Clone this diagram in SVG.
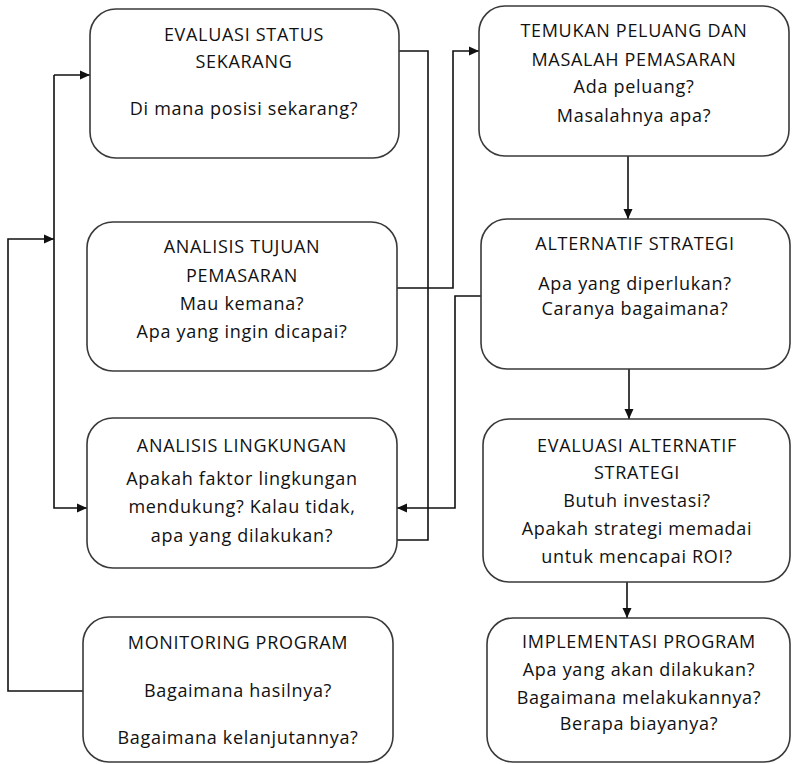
<svg xmlns="http://www.w3.org/2000/svg" width="792" height="764" viewBox="0 0 792 764">
  <style>
    .box { fill: #ffffff; stroke: #3a3a3a; stroke-width: 1.6; }
    .wire { fill: none; stroke: #111111; stroke-width: 1.6; }
    text { font-family: "Open Sans", "Noto Sans", "DejaVu Sans", sans-serif; font-size: 18px; letter-spacing: 0.7px; fill: #111111; text-anchor: middle; }
  </style>
  <defs>
    <marker id="arrow" viewBox="0 0 10 10" refX="10" refY="5" markerWidth="10" markerHeight="10" markerUnits="userSpaceOnUse" orient="auto">
      <path d="M0,0.5 L10,5 L0,9.5 Z" fill="#111111"/>
    </marker>
  </defs>
  <rect width="792" height="764" fill="#ffffff"/>

  <g id="connectors">
    <!-- status -> lingkungan (plain line) -->
    <path class="wire" d="M399,51 H428 V540 H397"/>
    <!-- tujuan -> temukan peluang -->
    <path class="wire" d="M397,288 H453 V51 H479" marker-end="url(#arrow)"/>
    <!-- alternatif strategi -> lingkungan -->
    <path class="wire" d="M481,296 H455 V508 H397" marker-end="url(#arrow)"/>
    <!-- left trunk feeding status and lingkungan -->
    <path class="wire" d="M54,75 H90" marker-end="url(#arrow)"/>
    <path class="wire" d="M54,75 V508 H87" marker-end="url(#arrow)"/>
    <!-- monitoring feedback -->
    <path class="wire" d="M83,691 H8 V239 H54" marker-end="url(#arrow)"/>
    <!-- right column chain -->
    <path class="wire" d="M628,156 V219" marker-end="url(#arrow)"/>
    <path class="wire" d="M629,369 V419" marker-end="url(#arrow)"/>
    <path class="wire" d="M627,582 V618" marker-end="url(#arrow)"/>
  </g>

  <g id="evaluasi-status">
    <rect class="box" x="90" y="9" width="309" height="149" rx="26"/>
    <text x="244" y="41">EVALUASI STATUS</text>
    <text x="244" y="68">SEKARANG</text>
    <text x="244" y="115">Di mana posisi sekarang?</text>
  </g>

  <g id="analisis-tujuan">
    <rect class="box" x="87" y="222" width="310" height="149" rx="26"/>
    <text x="242" y="253">ANALISIS TUJUAN</text>
    <text x="242" y="282">PEMASARAN</text>
    <text x="242" y="310">Mau kemana?</text>
    <text x="242" y="338">Apa yang ingin dicapai?</text>
  </g>

  <g id="analisis-lingkungan">
    <rect class="box" x="87" y="418" width="310" height="150" rx="26"/>
    <text x="242" y="452">ANALISIS LINGKUNGAN</text>
    <text x="242" y="485">Apakah faktor lingkungan</text>
    <text x="242" y="513">mendukung? Kalau tidak,</text>
    <text x="242" y="542">apa yang dilakukan?</text>
  </g>

  <g id="monitoring-program">
    <rect class="box" x="83" y="617" width="310" height="145" rx="26"/>
    <text x="238" y="649">MONITORING PROGRAM</text>
    <text x="238" y="697">Bagaimana hasilnya?</text>
    <text x="238" y="744">Bagaimana kelanjutannya?</text>
  </g>

  <g id="temukan-peluang">
    <rect class="box" x="479" y="6" width="310" height="150" rx="26"/>
    <text x="634" y="37">TEMUKAN PELUANG DAN</text>
    <text x="634" y="66">MASALAH PEMASARAN</text>
    <text x="634" y="93">Ada peluang?</text>
    <text x="634" y="122">Masalahnya apa?</text>
  </g>

  <g id="alternatif-strategi">
    <rect class="box" x="481" y="219" width="309" height="150" rx="26"/>
    <text x="635" y="250">ALTERNATIF STRATEGI</text>
    <text x="635" y="290">Apa yang diperlukan?</text>
    <text x="635" y="315">Caranya bagaimana?</text>
  </g>

  <g id="evaluasi-alternatif">
    <rect class="box" x="483" y="419" width="307" height="163" rx="26"/>
    <text x="637" y="452">EVALUASI ALTERNATIF</text>
    <text x="637" y="479">STRATEGI</text>
    <text x="637" y="507">Butuh investasi?</text>
    <text x="637" y="535">Apakah strategi memadai</text>
    <text x="637" y="563">untuk mencapai ROI?</text>
  </g>

  <g id="implementasi-program">
    <rect class="box" x="487" y="618" width="303" height="144" rx="26"/>
    <text x="639" y="648">IMPLEMENTASI PROGRAM</text>
    <text x="639" y="676">Apa yang akan dilakukan?</text>
    <text x="639" y="704">Bagaimana melakukannya?</text>
    <text x="639" y="730">Berapa biayanya?</text>
  </g>
</svg>
